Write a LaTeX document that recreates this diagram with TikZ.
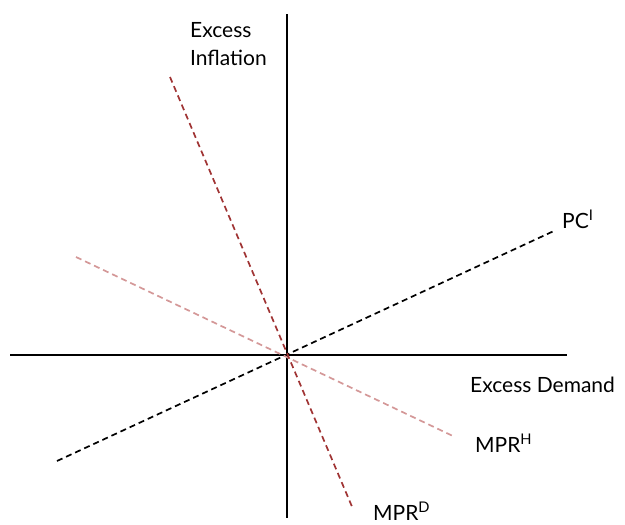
\documentclass[tikz,border=0pt]{standalone}
\usepackage{fontspec}
\setmainfont{Lato}
\usetikzlibrary{calc}
\definecolor{mprdark}{RGB}{160,52,52}
\definecolor{mprlight}{RGB}{212,152,152}

\begin{document}
\begin{tikzpicture}[x=1pt, y=-1pt,
  axis/.style={line width=2.2pt},
  curve/.style={line width=1.7pt, dash pattern=on 6pt off 4pt},
  lbl/.style={anchor=base west, inner sep=0pt, font=\fontsize{21}{25}\selectfont}]
\useasboundingbox (0,0) rectangle (625,525);

%axis
\coordinate (O) at (287,355);
\coordinate (xl) at (10,355);
\coordinate (xr) at (567,355);
\coordinate (yt) at (287,14);
\coordinate (yb) at (287,518);
\draw[axis] (xl)--(xr);
\draw[axis] (yt)--(yb);
\node[lbl] (ylab1) at (190,37) {Excess};
\node[lbl] (ylab2) at (190,65) {Inflation};
\node[lbl] (xlab) at (470,392) {Excess Demand};

%phillips curve
\coordinate (pcA) at (57,461);
\coordinate (pcB) at (556,230);
\draw[curve] (pcA)--(pcB);
\node[lbl] (pclab) at (562,228) {PC\textsuperscript{I}};

%policy rules
\coordinate (mprhA) at (76,257);
\coordinate (mprhB) at (455,437);
\draw[curve, mprlight] (mprhA)--(mprhB);
\node[lbl] (mprhlab) at (475,452) {MPR\textsuperscript{H}};

\coordinate (mprdA) at (170,77);
\coordinate (mprdB) at (353,509);
\draw[curve, mprdark] (mprdA)--(mprdB);
\node[lbl] (mprdlab) at (373,520) {MPR\textsuperscript{D}};
\end{tikzpicture}
\end{document}
